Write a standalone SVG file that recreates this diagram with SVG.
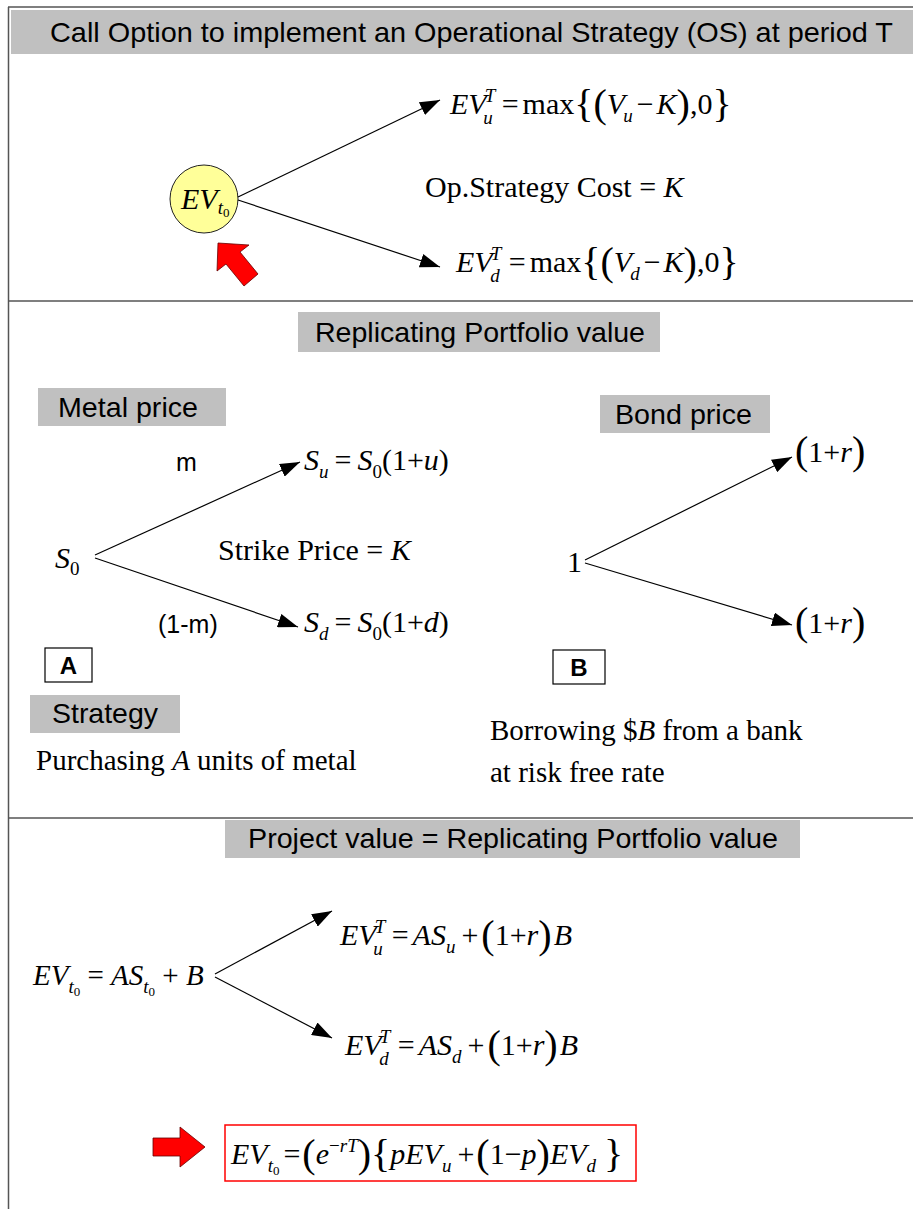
<svg xmlns="http://www.w3.org/2000/svg" width="913" height="1209" viewBox="0 0 913 1209">
  <defs>
    <marker id="ah" markerUnits="userSpaceOnUse" markerWidth="20" markerHeight="14" refX="20" refY="7" orient="auto">
      <path d="M0,0 L20,7 L0,14 z" fill="#000"/>
    </marker>
    <style>
      .frame{stroke:#555;stroke-width:1.5;fill:none}
      .band{fill:#C0C0C0}
      .hd{font-family:"Liberation Sans",Arial,sans-serif;font-size:28px;fill:#000}
      .lb{font-family:"Liberation Sans",Arial,sans-serif;font-size:25px;fill:#000}
      .bx{fill:#fff;stroke:#000;stroke-width:1.2}
      .bl{font-family:"Liberation Sans",Arial,sans-serif;font-size:24px;font-weight:bold;fill:#000}
      .m{font-family:"Liberation Serif","Times New Roman",serif;font-size:30px;fill:#000}
      .t29{font-size:29px}
      .i{font-style:italic}
      .sb{font-size:19px}
      .ss{font-size:13px}
      .br{font-size:40px}
      .conn{stroke:#000;stroke-width:1.2;fill:none;marker-end:url(#ah)}
      .red{fill:#FF0000;stroke:#600;stroke-width:0.8}
    </style>
  </defs>

  <!-- outer frame and section separators -->
  <g id="frame">
    <line class="frame" x1="8" y1="7" x2="913" y2="7"/>
    <line class="frame" x1="8.5" y1="7" x2="8.5" y2="1209"/>
    <line class="frame" x1="8" y1="301" x2="913" y2="301"/>
    <line class="frame" x1="8" y1="818" x2="913" y2="818"/>
  </g>

  <!-- section 1: call option -->
  <g id="title1">
    <rect class="band" x="11" y="10" width="902" height="44"/>
    <text class="hd" x="50" y="42" textLength="843" lengthAdjust="spacingAndGlyphs">Call Option to implement an Operational Strategy (OS) at period T</text>
  </g>

  <g id="node-ev0">
    <circle cx="204" cy="199" r="34" fill="#FFFF99" stroke="#222" stroke-width="1"/>
    <text class="m" x="181" y="209"><tspan class="i">EV</tspan><tspan class="i sb" dy="5">t</tspan><tspan class="ss" dy="3">0</tspan></text>
  </g>

  <g id="pointer-up">
    <polygon class="red" points="218,243 249,245 240,252 258,274 244,286 226,264 217,271"/>
  </g>

  <g id="node-evu">
    <text class="m" x="450" y="114"><tspan class="i">EV</tspan><tspan class="i sb" dx="-2" dy="-12">T</tspan><tspan class="i sb" dx="-11" dy="22">u</tspan><tspan dx="9" dy="-10">=</tspan><tspan dx="4">max</tspan><tspan class="br" dy="3">{(</tspan><tspan class="i" dy="-3">V</tspan><tspan class="i sb" dx="-2" dy="8">u</tspan><tspan dx="4" dy="-8">−</tspan><tspan class="i" dx="3">K</tspan><tspan class="br" dy="3">)</tspan><tspan dy="-3">,0</tspan><tspan class="br" dy="3">}</tspan></text>
  </g>

  <g id="node-cost">
    <text class="m" x="425" y="197">Op.Strategy Cost = <tspan class="i">K</tspan></text>
  </g>

  <g id="node-evd">
    <text class="m" x="456" y="272"><tspan class="i">EV</tspan><tspan class="i sb" dx="-2" dy="-12">T</tspan><tspan class="i sb" dx="-11" dy="22">d</tspan><tspan dx="9" dy="-10">=</tspan><tspan dx="4">max</tspan><tspan class="br" dy="3">{(</tspan><tspan class="i" dy="-3">V</tspan><tspan class="i sb" dx="-2" dy="8">d</tspan><tspan dx="4" dy="-8">−</tspan><tspan class="i" dx="3">K</tspan><tspan class="br" dy="3">)</tspan><tspan dy="-3">,0</tspan><tspan class="br" dy="3">}</tspan></text>
  </g>

  <!-- section 2: replicating portfolio -->
  <g id="title2">
    <rect class="band" x="298" y="312" width="362" height="40"/>
    <text class="hd" x="315" y="342" textLength="330" lengthAdjust="spacingAndGlyphs">Replicating Portfolio value</text>
  </g>

  <g id="label-metal">
    <rect class="band" x="38" y="388" width="188" height="38"/>
    <text class="hd" x="58" y="417" textLength="140" lengthAdjust="spacingAndGlyphs">Metal price</text>
  </g>

  <g id="label-bond">
    <rect class="band" x="600" y="395" width="170" height="38"/>
    <text class="hd" x="615" y="424" textLength="137" lengthAdjust="spacingAndGlyphs">Bond price</text>
  </g>

  <g id="node-s0">
    <text class="m" x="55" y="568"><tspan class="i">S</tspan><tspan class="sb" dy="7">0</tspan></text>
  </g>

  <g id="node-su">
    <text class="m" x="304" y="470"><tspan class="i">S</tspan><tspan class="i sb" dy="8">u</tspan><tspan dx="6" dy="-8">=</tspan><tspan class="i" dx="6">S</tspan><tspan class="sb" dy="8">0</tspan><tspan dy="-8">(1+</tspan><tspan class="i">u</tspan>)</text>
  </g>

  <g id="node-strike">
    <text class="m" x="218" y="560">Strike Price = <tspan class="i">K</tspan></text>
  </g>

  <g id="node-sd">
    <text class="m" x="304" y="632"><tspan class="i">S</tspan><tspan class="i sb" dy="8">d</tspan><tspan dx="6" dy="-8">=</tspan><tspan class="i" dx="6">S</tspan><tspan class="sb" dy="8">0</tspan><tspan dy="-8">(1+</tspan><tspan class="i">d</tspan>)</text>
  </g>

  <g id="prob-labels">
    <text class="lb" x="176" y="471">m</text>
    <text class="lb" x="158" y="633">(1-m)</text>
  </g>

  <g id="node-one">
    <text class="m" x="567" y="572">1</text>
  </g>

  <g id="node-bond-up">
    <text class="m" x="795" y="462"><tspan class="br" dy="2">(</tspan><tspan dy="-2">1+</tspan><tspan class="i">r</tspan><tspan class="br" dy="2">)</tspan></text>
  </g>

  <g id="node-bond-down">
    <text class="m" x="795" y="633"><tspan class="br" dy="2">(</tspan><tspan dy="-2">1+</tspan><tspan class="i">r</tspan><tspan class="br" dy="2">)</tspan></text>
  </g>

  <g id="tag-a">
    <rect class="bx" x="45" y="648" width="47" height="34"/>
    <text class="bl" x="68.5" y="674" text-anchor="middle">A</text>
  </g>

  <g id="tag-b">
    <rect class="bx" x="553" y="650" width="52" height="34"/>
    <text class="bl" x="579" y="676" text-anchor="middle">B</text>
  </g>

  <g id="label-strategy">
    <rect class="band" x="30" y="695" width="150" height="38"/>
    <text class="hd" x="52" y="723" textLength="106" lengthAdjust="spacingAndGlyphs">Strategy</text>
  </g>

  <g id="text-purchase">
    <text class="m t29" x="36" y="770">Purchasing <tspan class="i">A</tspan> units of metal</text>
  </g>

  <g id="text-borrow">
    <text class="m t29" x="490" y="740">Borrowing $<tspan class="i">B</tspan> from a bank</text>
    <text class="m t29" x="490" y="782">at risk free rate</text>
  </g>

  <!-- section 3: project value -->
  <g id="title3">
    <rect class="band" x="225" y="820" width="575" height="38"/>
    <text class="hd" x="248" y="848" textLength="530" lengthAdjust="spacingAndGlyphs">Project value = Replicating Portfolio value</text>
  </g>

  <g id="node-ev-now">
    <text class="m t29" x="33" y="985"><tspan class="i">EV</tspan><tspan class="i sb" dy="8">t</tspan><tspan class="ss" dy="3">0</tspan><tspan dy="-11"> = </tspan><tspan class="i">AS</tspan><tspan class="i sb" dy="8">t</tspan><tspan class="ss" dy="3">0</tspan><tspan dy="-11"> + </tspan><tspan class="i">B</tspan></text>
  </g>

  <g id="node-ev-up">
    <text class="m" x="340" y="945"><tspan class="i">EV</tspan><tspan class="i sb" dx="-2" dy="-12">T</tspan><tspan class="i sb" dx="-11" dy="22">u</tspan><tspan dx="9" dy="-10">=</tspan><tspan class="i" dx="4">AS</tspan><tspan class="i sb" dy="8">u</tspan><tspan dx="6" dy="-8">+</tspan><tspan class="br" dx="3" dy="3">(</tspan><tspan dy="-3">1+</tspan><tspan class="i">r</tspan><tspan class="br" dy="3">)</tspan><tspan class="i" dx="2" dy="-3">B</tspan></text>
  </g>

  <g id="node-ev-down">
    <text class="m" x="345" y="1055"><tspan class="i">EV</tspan><tspan class="i sb" dx="-2" dy="-12">T</tspan><tspan class="i sb" dx="-11" dy="22">d</tspan><tspan dx="9" dy="-10">=</tspan><tspan class="i" dx="4">AS</tspan><tspan class="i sb" dy="8">d</tspan><tspan dx="6" dy="-8">+</tspan><tspan class="br" dx="3" dy="3">(</tspan><tspan dy="-3">1+</tspan><tspan class="i">r</tspan><tspan class="br" dy="3">)</tspan><tspan class="i" dx="2" dy="-3">B</tspan></text>
  </g>

  <g id="pointer-right">
    <polygon class="red" points="153,1138 180,1138 180,1127 205,1147 180,1167 180,1156 153,1156"/>
  </g>

  <g id="node-result">
    <rect x="225" y="1125" width="411" height="56" fill="none" stroke="#FF0000" stroke-width="1.5"/>
    <text class="m" x="231" y="1164"><tspan class="i">EV</tspan><tspan class="i sb" dy="8">t</tspan><tspan class="ss" dy="3">0</tspan><tspan dx="4" dy="-11">=</tspan><tspan class="br" dx="2" dy="3">(</tspan><tspan class="i" dy="-3">e</tspan><tspan class="sb" dy="-12">−</tspan><tspan class="i sb">rT</tspan><tspan class="br" dy="15">)</tspan><tspan class="br">{</tspan><tspan class="i" dy="-3">pEV</tspan><tspan class="i sb" dy="8">u</tspan><tspan dx="6" dy="-8">+</tspan><tspan class="br" dx="2" dy="3">(</tspan><tspan dy="-3">1−</tspan><tspan class="i">p</tspan><tspan class="br" dy="3">)</tspan><tspan class="i" dy="-3">EV</tspan><tspan class="i sb" dy="8">d</tspan><tspan class="br" dx="8" dy="-5">}</tspan></text>
  </g>

  <!-- connectors -->
  <g id="connectors">
    <line class="conn" x1="238" y1="197" x2="440" y2="100"/>
    <line class="conn" x1="238" y1="200" x2="440" y2="267"/>
    <line class="conn" x1="95" y1="555" x2="300" y2="462"/>
    <line class="conn" x1="95" y1="558" x2="298" y2="627"/>
    <line class="conn" x1="585" y1="560" x2="792" y2="457"/>
    <line class="conn" x1="585" y1="563" x2="792" y2="625"/>
    <line class="conn" x1="215" y1="974" x2="332" y2="911"/>
    <line class="conn" x1="215" y1="977" x2="332" y2="1038"/>
  </g>
</svg>
